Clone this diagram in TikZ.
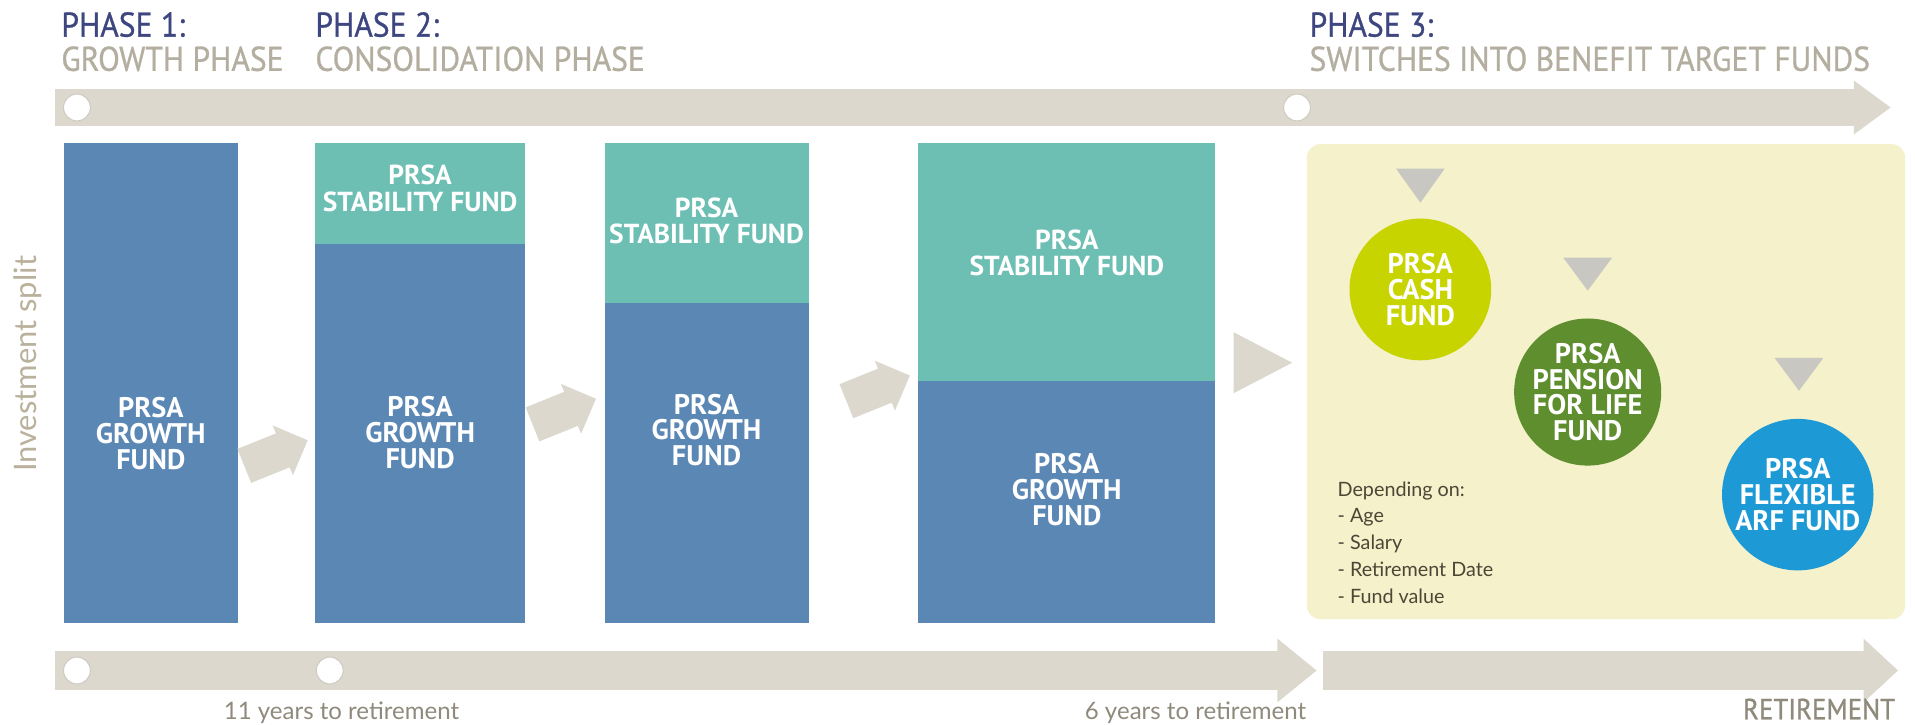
\documentclass[tikz,border=0pt]{standalone}
\usepackage{fontspec}
\setmainfont{Lato}
\newfontfamily\hdrfont[FakeStretch=0.92,FakeBold=0.8]{PT Sans}
\newfontfamily\lblfont{PT Sans}
\usetikzlibrary{shapes.geometric}
\definecolor{navy}{HTML}{3E4680}
\definecolor{hdrgray}{HTML}{B3AE9F}
\definecolor{bargray}{HTML}{DCD8CE}
\definecolor{dotline}{HTML}{CFCBC2}
\definecolor{fundblue}{HTML}{5B87B5}
\definecolor{fundteal}{HTML}{6DBFB3}
\definecolor{pthree}{HTML}{F4F1CB}
\definecolor{cashc}{HTML}{C8D400}
\definecolor{pensc}{HTML}{5E8E2E}
\definecolor{flexc}{HTML}{1D9AD6}
\definecolor{trigray}{HTML}{C9C7C2}
\definecolor{bodytxt}{HTML}{4D4636}
\definecolor{footgray}{HTML}{8F8A7C}
\definecolor{sidegray}{HTML}{B9B19B}
\tikzset{
  hdrtop/.style={anchor=base west, inner sep=0, text=navy, font=\hdrfont\fontsize{20}{20}\selectfont},
  hdrsub/.style={anchor=base west, inner sep=0, text=hdrgray, font=\hdrfont\fontsize{20}{20}\selectfont},
  dot/.style={circle, fill=white, draw=dotline, line width=0.6pt, minimum size=0.55cm, inner sep=0},
  fundlbl/.style={align=center, text=white, inner sep=0, font=\lblfont\bfseries\fontsize{16.5}{15}\selectfont},
  stablbl/.style={align=center, text=white, inner sep=0, font=\lblfont\bfseries\fontsize{16}{15.5}\selectfont},
  fundcircle/.style={circle, inner sep=0, text=white, align=center, font=\lblfont\bfseries\fontsize{16.5}{15}\selectfont},
  footlbl/.style={inner sep=0, text=footgray, font=\fontsize{14}{14}\selectfont},
}
\begin{document}
\begin{tikzpicture}[x=0.025cm,y=-0.025cm]
\useasboundingbox (0,0) rectangle (1568,593.6);
\fill[white] (0,0) rectangle (1568,593.6);

% headers
\node[hdrtop] (p1) at (50,30) {PHASE 1:};
\node[hdrsub] (p1s) at (50,58) {GROWTH PHASE};
\node[hdrtop] (p2) at (258,30) {PHASE 2:};
\node[hdrsub] (p2s) at (258,58) {CONSOLIDATION PHASE};
\node[hdrtop] (p3) at (1072,30) {PHASE 3:};
\node[hdrsub] (p3s) at (1072,58) {SWITCHES INTO BENEFIT TARGET FUNDS};

% top bar
\fill[bargray] (45,73) rectangle (1522,103);
\fill[bargray] (1518,66) -- (1548,88) -- (1518,110) -- cycle;
\node[dot] (t1) at (63,88) {};
\node[dot] (t2) at (1062,88) {};

% side label
\node[rotate=90, inner sep=0, text=sidegray, font=\fontsize{18}{18}\selectfont] (side) at (23,298) {Investment split};

% column 1
\fill[fundblue] (52,117) rectangle (195,510);
\node[fundlbl] (g1) at (123.5,355) {PRSA\\GROWTH\\FUND};
% column 2
\fill[fundteal] (258,117) rectangle (430,200);
\fill[fundblue] (258,200) rectangle (430,510);
\node[stablbl] (s2) at (344,154) {PRSA\\STABILITY FUND};
\node[fundlbl] (g2) at (344,354) {PRSA\\GROWTH\\FUND};
% column 3
\fill[fundteal] (495,117) rectangle (662,248);
\fill[fundblue] (495,248) rectangle (662,510);
\node[stablbl] (s3) at (578.5,181) {PRSA\\STABILITY FUND};
\node[fundlbl] (g3) at (578.5,352) {PRSA\\GROWTH\\FUND};
% column 4
\fill[fundteal] (752,117) rectangle (995,312);
\fill[fundblue] (752,312) rectangle (995,510);
\node[stablbl] (s4) at (873.5,207) {PRSA\\STABILITY FUND};
\node[fundlbl] (g4) at (873.5,401) {PRSA\\GROWTH\\FUND};

% phase arrows
\foreach \cx/\cy in {226/371, 462/337, 719/318}{
  \begin{scope}[shift={(\cx,\cy)}, rotate=22]
    \fill[bargray] (-28,-15) -- (6,-15) -- (6,-22) -- (28,0) -- (6,22) -- (6,15) -- (-28,15) -- cycle;
  \end{scope}
}
\fill[bargray] (1010,272) -- (1058,297) -- (1010,322) -- cycle;

% phase 3 box
\fill[pthree, rounded corners=8] (1070,118) rectangle (1560,507);
\fill[trigray] (1143,138) -- (1183,138) -- (1163,166) -- cycle;
\fill[trigray] (1280,211) -- (1320,211) -- (1300,238) -- cycle;
\fill[trigray] (1453,293) -- (1493,293) -- (1473,320) -- cycle;
\node[fundcircle, fill=cashc, minimum size=2.9cm] (cash) at (1163,237) {PRSA\\CASH\\FUND};
\node[fundcircle, fill=pensc, minimum size=2.95cm] (pens) at (1300,321) {PRSA\\PENSION\\FOR LIFE\\FUND};
\node[fundcircle, fill=flexc, minimum size=3.1cm] (flex) at (1472,405) {PRSA\\FLEXIBLE\\ARF FUND};
\node[anchor=north west, align=left, inner sep=0, text=bodytxt, font=\fontsize{11.5}{15.6}\selectfont] (dep) at (1095,394)
  {Depending on:\\- Age\\- Salary\\- Retirement Date\\- Fund value};

% bottom bar
\fill[bargray] (45,533) rectangle (1050,565);
\fill[bargray] (1046,523) -- (1078,549) -- (1046,575) -- cycle;
\fill[bargray] (1083,533) rectangle (1530,565);
\fill[bargray] (1526,523) -- (1554,549) -- (1526,575) -- cycle;
\node[dot] (b1) at (63,549) {};
\node[dot] (b2) at (270,549) {};

% footer labels
\node[footlbl, anchor=base west] (y11) at (183,589) {11 years to retirement};
\node[footlbl, anchor=base west] (y6) at (888,589) {6 years to retirement};
\node[anchor=base east, inner sep=0, text=footgray, font=\hdrfont\fontsize{17}{17}\selectfont] (ret) at (1552,589) {RETIREMENT};
\end{tikzpicture}
\end{document}
